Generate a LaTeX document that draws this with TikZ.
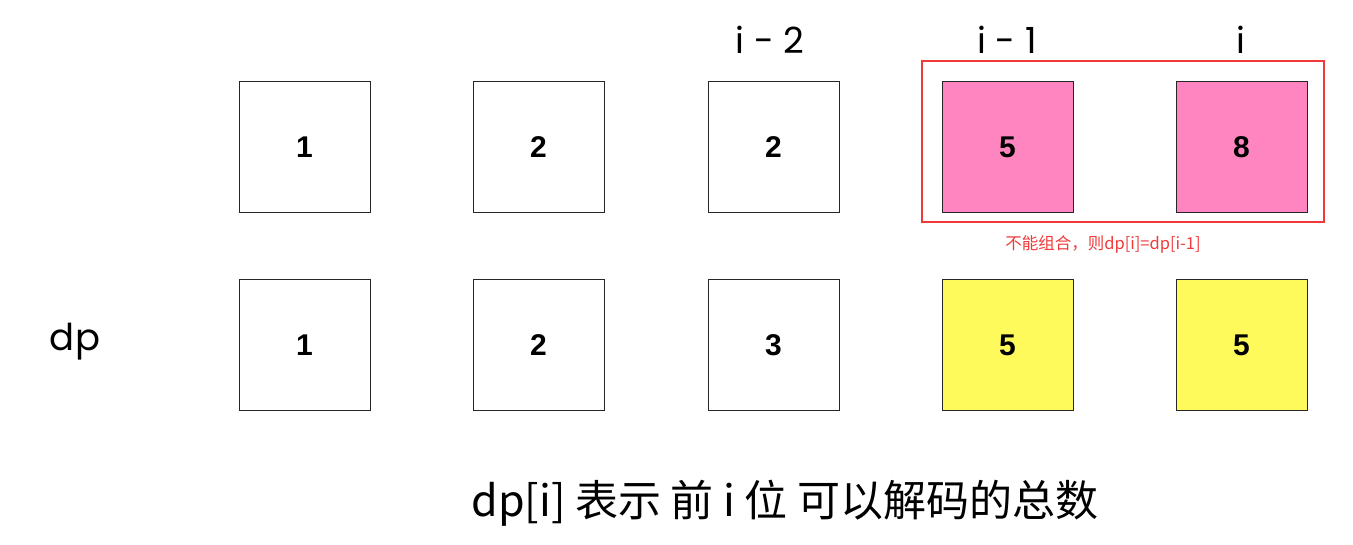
\documentclass[tikz,border=0pt]{standalone}
\usepackage{fontspec}
\setmainfont{Liberation Sans}
\newfontfamily\cjk{Noto Sans CJK SC}
\newfontfamily\lbl{Poppins}
\definecolor{pinkfill}{HTML}{FF85C0}
\definecolor{yellowfill}{HTML}{FFFA5C}
\definecolor{redline}{HTML}{F03A3A}
\begin{document}
\begin{tikzpicture}[x=1pt,y=-1pt,
  cell/.style={draw=black!85, line width=0.8pt, minimum width=131pt, minimum height=131pt, inner sep=0pt, font=\fontsize{30}{32}\selectfont\bfseries},
  pinkcell/.style={cell, fill=pinkfill},
  yellowcell/.style={cell, fill=yellowfill},
  idx/.style={font=\lbl\fontsize{36}{40}\selectfont},
]
\useasboundingbox (0,0) rectangle (1353,544);
% row 1
\node[cell] (a1) at (304.5,147) {1};
\node[cell] (a2) at (538.5,147) {2};
\node[cell] (a3) at (773.5,147) {2};
\node[pinkcell] (a4) at (1007.5,147) {5};
\node[pinkcell] (a5) at (1241.5,147) {8};
% row 2
\node[cell] (b1) at (304.5,345) {1};
\node[cell] (b2) at (538.5,345) {2};
\node[cell] (b3) at (773.5,345) {3};
\node[yellowcell] (b4) at (1007.5,345) {5};
\node[yellowcell] (b5) at (1241.5,345) {5};
% indices
\node[idx] (l3) at (770,40) {i - 2};
\node[idx] (l4) at (1007,40) {i - 1};
\node[idx] (l5) at (1241,40) {i};
% red frame
\node[draw=redline, line width=2pt, minimum width=402pt, minimum height=161pt, inner sep=0pt] (frame) at (1123,141.5) {};
\node[text=redline, font=\cjk\fontsize{16.5}{18}\selectfont] (note) at (1103,244) {不能组合，则dp[i]=dp[i-1]};
% dp label
\node[font=\lbl\fontsize{37}{40}\selectfont] (dp) at (75,342) {dp};
% caption
\node[font=\cjk\fontsize{43}{46}\selectfont] (cap) at (785,503) {dp[i] 表示 前 i 位 可以解码的总数};
\end{tikzpicture}
\end{document}
